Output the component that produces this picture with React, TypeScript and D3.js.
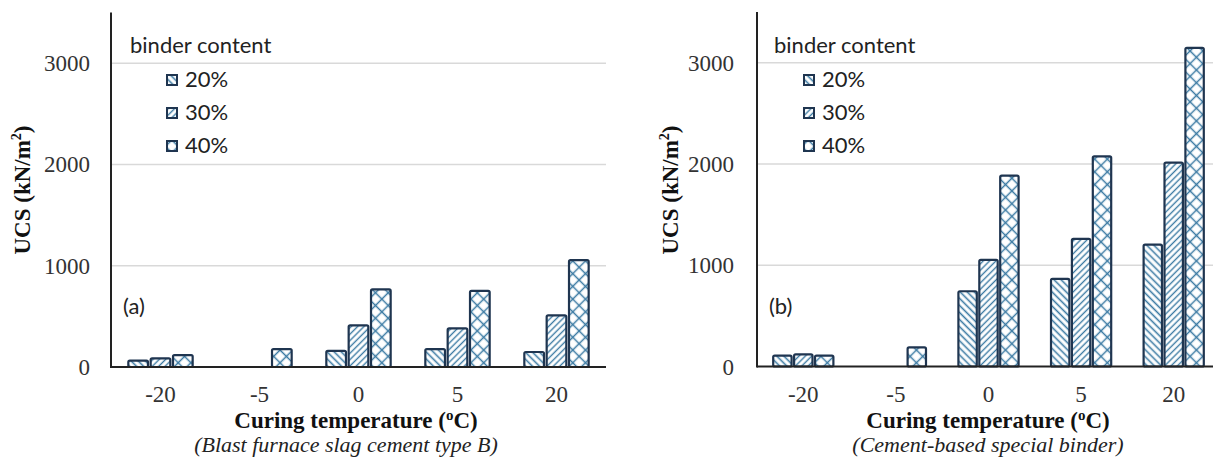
import React, { useEffect, useRef } from "react";
import * as d3 from "d3";

// curing temperature categories (°C)
const categories = ["-20", "-5", "0", "5", "20"];
const binderContents = ["20%", "30%", "40%"];
const yTicks = [0, 1000, 2000, 3000];

// (a) Blast furnace slag cement type B, UCS in kN/m2
const slagB20 = [62, null, 160, 177, 148];
const slagB30 = [86, null, 411, 381, 510];
const slagB40 = [118, 177, 766, 752, 1055];

// (b) Cement-based special binder
const special20 = [108, null, 743, 866, 1204];
const special30 = [120, null, 1053, 1261, 2013];
const special40 = [108, 188, 1885, 2075, 3146];

const panels = [
  {
    tag: "(a)",
    subtitle: "(Blast furnace slag cement type B)",
    series: [slagB20, slagB30, slagB40],
    x0: 111, x1: 606, base: 367,
    legend: { title: 19, box: 56, text: 74 },
    ucsX: 22, tickGap: 21, titleX: 356, subX: 346,
  },
  {
    tag: "(b)",
    subtitle: "(Cement-based special binder)",
    series: [special20, special30, special40],
    x0: 757, x1: 1220, base: 366.5,
    legend: { title: 17, box: 47, text: 65 },
    ucsX: 670, tickGap: 23, titleX: 988, subX: 988,
  },
];

const patternIds = ["hatch20", "hatch30", "hatch40"];
const serif = "'Liberation Serif', 'Times New Roman', serif";
const sans = "Lato, 'Noto Sans', sans-serif";
const barStroke = "#1f3550";
const hatchColor = "#3b7aa3";

export default function App() {
  const ref = useRef(null);

  useEffect(() => {
    const svg = d3.select(ref.current);
    svg.selectAll("*").remove();

    const defs = svg.append("defs");
    // 20%: "\" lines
    const p1 = defs.append("pattern").attr("id", patternIds[0])
      .attr("patternUnits", "userSpaceOnUse").attr("width", 5).attr("height", 5)
      .attr("patternTransform", "rotate(-45)");
    p1.append("line").attr("x1", 2.5).attr("y1", 0).attr("x2", 2.5).attr("y2", 5)
      .attr("stroke", hatchColor).attr("stroke-width", 1.6);
    // 30%: "/" lines
    const p2 = defs.append("pattern").attr("id", patternIds[1])
      .attr("patternUnits", "userSpaceOnUse").attr("width", 4.5).attr("height", 4.5)
      .attr("patternTransform", "rotate(45)");
    p2.append("line").attr("x1", 2.25).attr("y1", 0).attr("x2", 2.25).attr("y2", 4.5)
      .attr("stroke", hatchColor).attr("stroke-width", 1.4);
    // 40%: wide crosshatch
    const p3 = defs.append("pattern").attr("id", patternIds[2])
      .attr("patternUnits", "userSpaceOnUse").attr("width", 9).attr("height", 9)
      .attr("patternTransform", "rotate(45)");
    p3.append("line").attr("x1", 4.5).attr("y1", 0).attr("x2", 4.5).attr("y2", 9)
      .attr("stroke", hatchColor).attr("stroke-width", 1.5);
    p3.append("line").attr("x1", 0).attr("y1", 4.5).attr("x2", 9).attr("y2", 4.5)
      .attr("stroke", hatchColor).attr("stroke-width", 1.5);

    panels.forEach((p) => {
      const g = svg.append("g");
      const y = d3.scaleLinear().domain([0, 3500]).range([p.base, p.base - 354.5]);
      const x = d3.scaleBand().domain(categories).range([p.x0, p.x1]).padding(0.35).paddingOuter(0.175);
      const xs = d3.scaleBand().domain(binderContents).range([0, x.bandwidth()]).padding(0.12).paddingOuter(0);

      // gridlines
      g.selectAll(".grid").data(yTicks.filter((t) => t > 0)).join("line")
        .attr("x1", p.x0).attr("x2", p.x1)
        .attr("y1", (d) => y(d)).attr("y2", (d) => y(d))
        .attr("stroke", "#d9d9d9").attr("stroke-width", 1.5);

      // y tick labels
      g.selectAll(".ytick").data(yTicks).join("text")
        .attr("x", p.x0 - p.tickGap).attr("y", (d) => y(d))
        .attr("dy", "0.35em").attr("text-anchor", "end")
        .attr("font-family", serif).attr("font-size", 23).attr("fill", "#333")
        .text((d) => d);

      // bars
      p.series.forEach((vals, si) => {
        const rows = categories.map((c, i) => ({ c, v: vals[i] })).filter((d) => d.v != null);
        const bx = (d) => x(d.c) + xs(binderContents[si]);
        g.selectAll(".bg" + si).data(rows).join("rect")
          .attr("x", bx).attr("y", (d) => y(d.v))
          .attr("width", xs.bandwidth()).attr("height", (d) => y(0) - y(d.v))
          .attr("fill", "#fff");
        g.selectAll(".bar" + si).data(rows).join("rect")
          .attr("x", bx).attr("y", (d) => y(d.v))
          .attr("width", xs.bandwidth()).attr("height", (d) => y(0) - y(d.v))
          .attr("rx", 1.5)
          .attr("fill", `url(#${patternIds[si]})`)
          .attr("stroke", barStroke).attr("stroke-width", 2.2);
      });

      // axes lines
      g.append("line").attr("x1", p.x0).attr("x2", p.x1).attr("y1", y(0)).attr("y2", y(0))
        .attr("stroke", "#222").attr("stroke-width", 2);
      g.append("line").attr("x1", p.x0).attr("x2", p.x0).attr("y1", y(0) + 1).attr("y2", y(3500))
        .attr("stroke", "#222").attr("stroke-width", 2);

      // x tick labels
      g.selectAll(".xtick").data(categories).join("text")
        .attr("x", (d) => x(d) + x.bandwidth() / 2).attr("y", 402)
        .attr("text-anchor", "middle")
        .attr("font-family", serif).attr("font-size", 23).attr("fill", "#333")
        .text((d) => d);

      // x axis title
      const xt = g.append("text").attr("x", p.titleX).attr("y", 428).attr("text-anchor", "middle")
        .attr("font-family", serif).attr("font-size", 23).attr("font-weight", "bold").attr("fill", "#111");
      xt.append("tspan").text("Curing  temperature (");
      xt.append("tspan").attr("font-size", 15).attr("dy", -8).text("o");
      xt.append("tspan").attr("dy", 8).text("C)");
      g.append("text").attr("x", p.subX).attr("y", 452).attr("text-anchor", "middle")
        .attr("font-family", serif).attr("font-size", 22).attr("font-style", "italic").attr("fill", "#222")
        .text(p.subtitle);

      // y axis title
      const yt = g.append("text").attr("transform", `translate(${p.ucsX + 8},190) rotate(-90)`)
        .attr("text-anchor", "middle")
        .attr("font-family", serif).attr("font-size", 23).attr("font-weight", "bold").attr("fill", "#111");
      yt.append("tspan").text("UCS (kN/m");
      yt.append("tspan").attr("font-size", 14).attr("dy", -9).text("2");
      yt.append("tspan").attr("dy", 9).text(")");

      // panel tag
      g.append("text").attr("x", p.x0 + 12).attr("y", 314)
        .attr("font-family", sans).attr("font-size", 22).attr("fill", "#222").text(p.tag);

      // legend
      g.append("text").attr("x", p.x0 + p.legend.title).attr("y", 53)
        .attr("font-family", sans).attr("font-size", 22).attr("fill", "#222").text("binder content");
      binderContents.forEach((b, i) => {
        const cy = 80 + i * 33;
        g.append("rect").attr("x", p.x0 + p.legend.box).attr("y", cy - 5)
          .attr("width", 10).attr("height", 10).attr("fill", "#fff");
        g.append("rect").attr("x", p.x0 + p.legend.box).attr("y", cy - 5)
          .attr("width", 10).attr("height", 10).attr("fill", `url(#${patternIds[i]})`)
          .attr("stroke", barStroke).attr("stroke-width", 2);
        g.append("text").attr("x", p.x0 + p.legend.text).attr("y", cy + 7)
          .attr("font-family", sans).attr("font-size", 22).attr("fill", "#222").text(b);
      });
    });
  }, []);

  return (
    <svg ref={ref} width={1213} height={467}
      style={{ position: "absolute", left: 0, top: 0, background: "#fff" }} />
  );
}
